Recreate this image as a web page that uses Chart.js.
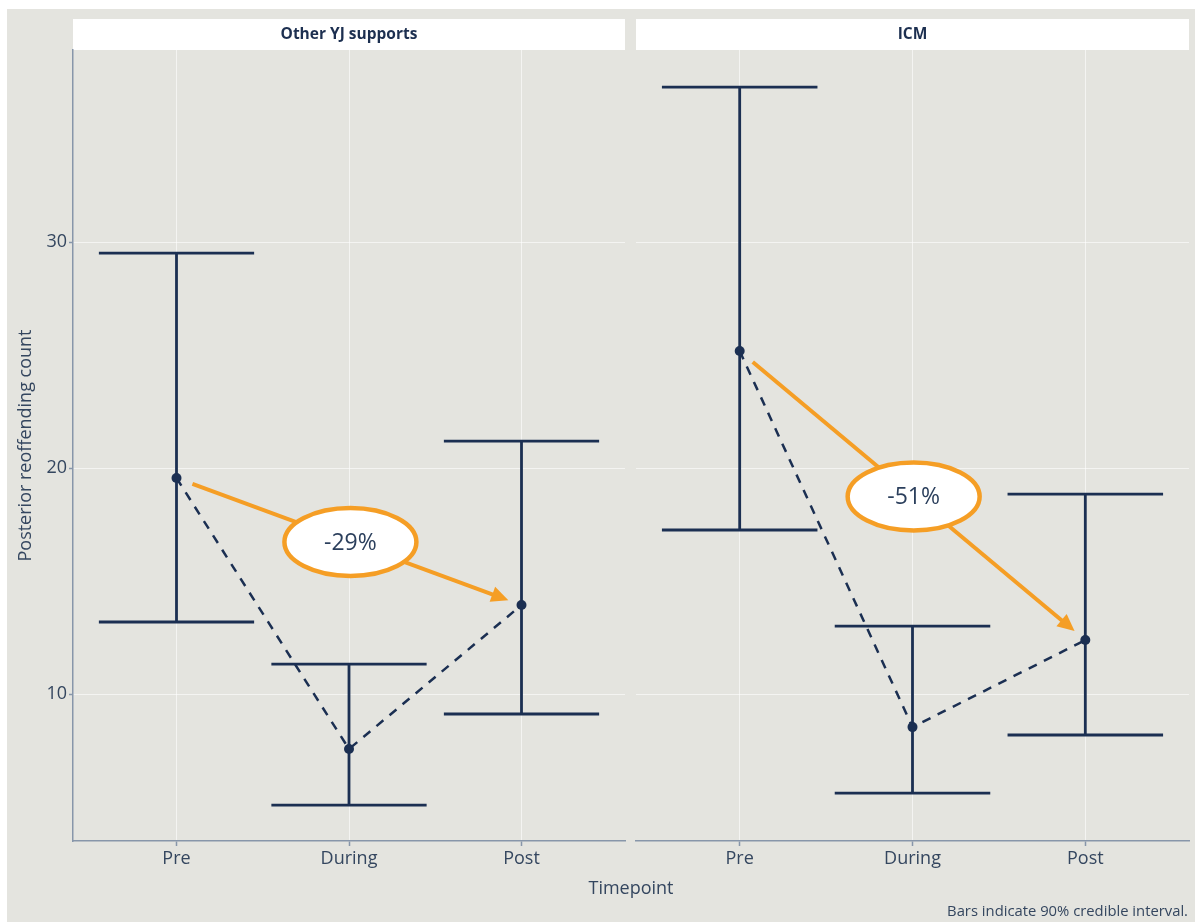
<!DOCTYPE html>
<html>
<head>
<meta charset="utf-8">
<script src="https://cdn.jsdelivr.net/npm/chart.js@4.4.1/dist/chart.umd.min.js"></script>
<style>
  html, body { margin: 0; padding: 0; background: #ffffff; }
  #page { position: relative; width: 1195px; height: 922px; overflow: hidden; background: #ffffff; }
  #bg { position: absolute; left: 7px; top: 9px; right: 0; bottom: 0; background: #e4e4df; }
  canvas { position: absolute; top: 0; }
  #c1 { left: 0; }
  #c2 { left: 630px; }
  .lbl { position: absolute; font-family: 'Open Sans', sans-serif; color: #34465f; white-space: nowrap; line-height: 1; }
  #xtitle { left: 631px; top: 887px; transform: translate(-50%, -50%); font-size: 18px; }
  #note { right: 7px; top: 910px; transform: translateY(-50%); font-size: 14.8px; }
</style>
</head>
<body>
<div id="page">
  <div id="bg"></div>
  <canvas id="c1" width="630" height="922"></canvas>
  <canvas id="c2" width="565" height="922"></canvas>
  <div class="lbl" id="xtitle">Timepoint</div>
  <div class="lbl" id="note">Bars indicate 90% credible interval.</div>
</div>
<script>
// Timepoints on the x axis and the two support groups (facets)
const timepoints = ['Pre', 'During', 'Post'];
const groups = ['Other YJ supports', 'ICM'];

// Posterior mean reoffending count and 90% credible interval bounds
const otherMean = [19.56, 7.57, 13.94];
const otherLow  = [13.19, 5.09, 9.12];
const otherHigh = [29.51, 11.33, 21.19];

const icmMean = [25.18, 8.54, 12.39];
const icmLow  = [17.26, 5.62, 8.19];
const icmHigh = [36.86, 13.01, 18.85];

// Y axis ticks and range
const yTicks = [10, 20, 30];
const yMin = 3.5;
const yMax = 38.5;

const NAVY = '#1b2f52';
const ORANGE = '#f59e25';
const TEXT = '#34465f';
const AXIS = '#8796aa';
const GRID = 'rgba(255,255,255,0.6)';
const FONT = "'Open Sans', sans-serif";
const WHISKER = 0.45;

// Percentage change from Pre to Post
function pctChange(mean) {
  return Math.round((mean[2] / mean[0] - 1) * 100) + '%';
}

// Facet strip above each panel
const stripPlugin = {
  id: 'strip',
  beforeDraw(chart, args, opts) {
    const { ctx, chartArea: a } = chart;
    ctx.save();
    ctx.fillStyle = '#ffffff';
    ctx.fillRect(a.left, a.top - 31, a.right - a.left, 31);
    ctx.fillStyle = '#1c2f50';
    ctx.font = 'bold 15.5px ' + FONT;
    ctx.textAlign = 'center';
    ctx.textBaseline = 'middle';
    ctx.fillText(opts.text, (a.left + a.right) / 2, a.top - 15);
    ctx.restore();
  }
};

function makePanel(canvasId, title, mean, low, high, showYAxis, padLeft, padRight) {
  // Interval bars drawn under the points
  const errorBars = {
    id: 'errorBars',
    beforeDatasetsDraw(chart) {
      const { ctx, scales: { x, y } } = chart;
      ctx.save();
      ctx.strokeStyle = NAVY;
      ctx.lineWidth = 2.8;
      low.forEach((lo, i) => {
        const hi = high[i];
        const xc = x.getPixelForValue(i);
        const xl = x.getPixelForValue(i - WHISKER);
        const xr = x.getPixelForValue(i + WHISKER);
        const yl = y.getPixelForValue(lo);
        const yh = y.getPixelForValue(hi);
        ctx.beginPath();
        ctx.moveTo(xc, yl); ctx.lineTo(xc, yh);
        ctx.moveTo(xl, yl); ctx.lineTo(xr, yl);
        ctx.moveTo(xl, yh); ctx.lineTo(xr, yh);
        ctx.stroke();
      });
      ctx.restore();
    }
  };

  // Orange Pre -> Post arrow with the percentage change in an ellipse
  const changeArrow = {
    id: 'changeArrow',
    afterDatasetsDraw(chart) {
      const { ctx, scales: { x, y } } = chart;
      const p0 = { x: x.getPixelForValue(0), y: y.getPixelForValue(mean[0]) };
      const p1 = { x: x.getPixelForValue(2), y: y.getPixelForValue(mean[2]) };
      const dx = p1.x - p0.x, dy = p1.y - p0.y;
      const len = Math.hypot(dx, dy);
      const ux = dx / len, uy = dy / len;
      const s = { x: p0.x + ux * 17, y: p0.y + uy * 17 };
      const e = { x: p1.x - ux * 14, y: p1.y - uy * 14 };
      const headLen = 17, headW = 8;
      const b = { x: e.x - ux * headLen, y: e.y - uy * headLen };
      ctx.save();
      ctx.strokeStyle = ORANGE;
      ctx.fillStyle = ORANGE;
      ctx.lineWidth = 4;
      ctx.beginPath();
      ctx.moveTo(s.x, s.y);
      ctx.lineTo(b.x + ux * 2, b.y + uy * 2);
      ctx.stroke();
      ctx.beginPath();
      ctx.moveTo(e.x, e.y);
      ctx.lineTo(b.x - uy * headW, b.y + ux * headW);
      ctx.lineTo(b.x + uy * headW, b.y - ux * headW);
      ctx.closePath();
      ctx.fill();

      const m = { x: (s.x + e.x) / 2, y: (s.y + e.y) / 2 };
      ctx.beginPath();
      ctx.ellipse(m.x, m.y, 66, 34, 0, 0, Math.PI * 2);
      ctx.fillStyle = '#ffffff';
      ctx.fill();
      ctx.lineWidth = 4.5;
      ctx.strokeStyle = ORANGE;
      ctx.stroke();

      ctx.fillStyle = '#2b3f5c';
      ctx.font = '23px ' + FONT;
      ctx.textAlign = 'center';
      ctx.textBaseline = 'middle';
      ctx.fillText(pctChange(mean), m.x, m.y + 1);
      ctx.restore();
    }
  };

  const pts = timepoints.map((t, i) => ({ x: i, y: mean[i] }));

  return new Chart(document.getElementById(canvasId), {
    type: 'scatter',
    data: {
      datasets: [
        {
          label: title,
          data: pts,
          order: 0,
          pointRadius: 5,
          pointHoverRadius: 5,
          pointBackgroundColor: NAVY,
          pointBorderWidth: 0,
          showLine: false
        },
        {
          label: title + ' trend',
          data: pts,
          order: 1,
          showLine: true,
          borderColor: NAVY,
          borderWidth: 2.5,
          borderDash: [9, 8],
          pointRadius: 0,
          pointHoverRadius: 0
        }
      ]
    },
    options: {
      responsive: false,
      animation: false,
      devicePixelRatio: 1,
      layout: { padding: { left: padLeft, right: padRight, top: 50, bottom: 0 } },
      plugins: {
        legend: { display: false },
        tooltip: { enabled: false },
        strip: { text: title }
      },
      scales: {
        x: {
          type: 'linear',
          min: -0.6,
          max: 2.6,
          afterBuildTicks: (s) => { s.ticks = timepoints.map((t, i) => ({ value: i })); },
          afterFit: (s) => { s.height = 81; },
          ticks: {
            callback: (v) => timepoints[v],
            font: { family: FONT, size: 18 },
            color: TEXT,
            padding: 2,
            maxRotation: 0
          },
          grid: { color: GRID, lineWidth: 1, tickColor: AXIS, tickLength: 5, tickWidth: 1.5 },
          border: { display: true, color: AXIS, width: 1.5 }
        },
        y: {
          min: yMin,
          max: yMax,
          afterBuildTicks: (s) => { s.ticks = yTicks.map(v => ({ value: v })); },
          afterFit: (s) => { s.width = showYAxis ? 73 : 0; },
          ticks: {
            display: showYAxis,
            font: { family: FONT, size: 18 },
            color: TEXT,
            padding: 2
          },
          grid: {
            color: GRID,
            lineWidth: 1,
            drawTicks: showYAxis,
            tickColor: AXIS,
            tickLength: 4,
            tickWidth: 1.5
          },
          border: { display: showYAxis, color: AXIS, width: 1.5 },
          title: {
            display: showYAxis,
            text: 'Posterior reoffending count',
            font: { family: FONT, size: 18 },
            color: TEXT,
            padding: { top: 15, bottom: 0 }
          }
        }
      }
    },
    plugins: [stripPlugin, errorBars, changeArrow]
  });
}

makePanel('c1', groups[0], otherMean, otherLow, otherHigh, true, 0, 5);
makePanel('c2', groups[1], icmMean, icmLow, icmHigh, false, 6, 6);
</script>
</body>
</html>
